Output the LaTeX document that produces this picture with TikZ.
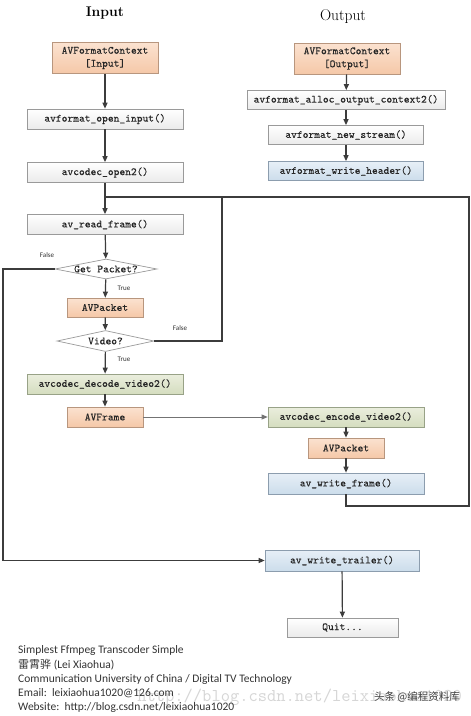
\documentclass[tikz,border=0pt]{standalone}
\usepackage{fontspec}
\newfontfamily\cjkfont{Noto Sans CJK SC}
\newfontfamily\calfont{Carlito}
\newfontfamily\boxfont{Latin Modern Mono}[FakeBold=0.2]
\usetikzlibrary{arrows.meta,shapes.geometric}
\definecolor{lineC}{HTML}{3C3C3C}
\definecolor{grayBorder}{HTML}{9A9A9A}
\definecolor{orTop}{HTML}{FBE2D0}
\definecolor{orBot}{HTML}{F5C8A8}
\definecolor{orBorder}{HTML}{B8967E}
\definecolor{grTop}{HTML}{EAEEDD}
\definecolor{grBot}{HTML}{D5DDBF}
\definecolor{grBorder}{HTML}{98A287}
\definecolor{blTop}{HTML}{E7EFF7}
\definecolor{blBot}{HTML}{CCDDEB}
\definecolor{blBorder}{HTML}{8C9DAE}
\tikzset{
  box/.style={draw=grayBorder, line width=0.7pt, inner sep=0pt, minimum height=20pt,
    font=\fontsize{11}{13}\selectfont\boxfont, text=black!85, align=center},
  whitebox/.style={box, top color=white, bottom color=black!8},
  orangebox/.style={box, top color=orTop, bottom color=orBot, draw=orBorder},
  greenbox/.style={box, top color=grTop, bottom color=grBot, draw=grBorder},
  bluebox/.style={box, top color=blTop, bottom color=blBot, draw=blBorder},
  decision/.style={diamond, draw=grayBorder, line width=0.7pt, fill=white, inner sep=0pt,
    shape aspect=5, font=\fontsize{11}{13}\selectfont\boxfont, text=black!85},
  flow/.style={draw=lineC, line width=1.2pt, -{Triangle[length=6pt,width=5pt]}},
  thinflow/.style={draw=black!55, line width=0.8pt, -{Triangle[length=6pt,width=5pt]}},
  plainline/.style={draw=lineC, line width=1.2pt},
  lbl/.style={font=\calfont\fontsize{7}{8}\selectfont, text=black!80, inner sep=0pt},
  foot/.style={font=\calfont\fontsize{11.5}{13}\selectfont, text=black!80, inner sep=0pt, anchor=west},
  title/.style={text=black, inner sep=0pt}
}
\begin{document}
\begin{tikzpicture}[x=1pt,y=-1pt]
\useasboundingbox (0,0) rectangle (471,716);
\fill[white] (0,0) rectangle (471,716);

% titles
\node[title, font=\fontsize{14}{16}\selectfont\bfseries] (tin) at (105,13) {Input};
\node[title, font=\fontsize{15.5}{17}\selectfont] (tout) at (343,17) {Output};

% input column
\node[orangebox, minimum width=106pt, minimum height=31pt] (ctxin) at (105,58) {AVFormatContext\\{[Input]}};
\node[whitebox, minimum width=156pt] (openin) at (105,119) {avformat\_open\_input()};
\node[whitebox, minimum width=156pt] (codecopen) at (105,172.5) {avcodec\_open2()};
\node[whitebox, minimum width=156pt] (readframe) at (105,224.5) {av\_read\_frame()};
\node[decision, minimum width=102pt, minimum height=20pt] (getpkt) at (106,269) {Get Packet?};
\node[orangebox, minimum width=76pt, minimum height=19pt] (pkt) at (105,307.5) {AVPacket};
\node[decision, minimum width=97pt, minimum height=21pt] (video) at (105.5,341) {Video?};
\node[greenbox, minimum width=156pt] (decode) at (105,384) {avcodec\_decode\_video2()};
\node[orangebox, minimum width=76pt] (frame) at (105,417) {AVFrame};

% output column
\node[orangebox, minimum width=106pt, minimum height=31pt] (ctxout) at (347,58.5) {AVFormatContext\\{[Output]}};
\node[whitebox, minimum width=198pt, minimum height=19pt] (alloc) at (346,100) {avformat\_alloc\_output\_context2()};
\node[whitebox, minimum width=155pt, minimum height=19pt] (newstream) at (346,135) {avformat\_new\_stream()};
\node[bluebox, minimum width=155pt, minimum height=19pt] (header) at (346,171) {avformat\_write\_header()};
\node[greenbox, minimum width=156pt] (encode) at (346,417) {avcodec\_encode\_video2()};
\node[orangebox, minimum width=76pt] (pkt2) at (346,448) {AVPacket};
\node[bluebox, minimum width=156pt, minimum height=21pt] (wframe) at (346,483.5) {av\_write\_frame()};
\node[bluebox, minimum width=154pt, minimum height=21pt] (trailer) at (342,560.5) {av\_write\_trailer()};
\node[whitebox, minimum width=111pt, minimum height=19pt] (quit) at (342.5,627.5) {Quit...};

% coordinates for bends
\coordinate (lt) at (105,197);
\coordinate (rt) at (469,197);
\coordinate (rb) at (469,506);
\coordinate (lb) at (346,506);
\coordinate (vf) at (222,341);
\coordinate (vt) at (222,197);
\coordinate (gl) at (3,269);
\coordinate (gb) at (3,560.5);

% connectors
\draw[flow] (ctxin) -- (openin);
\draw[flow] (openin) -- (codecopen);
\draw[flow] (codecopen) -- (readframe);
\draw[flow] (readframe) -- (getpkt);
\draw[flow] (getpkt) -- (pkt);
\draw[flow] (pkt) -- (video);
\draw[flow] (video) -- (decode);
\draw[flow] (decode) -- (frame);
\draw[thinflow] (frame) -- (encode);
\draw[flow] (encode) -- (pkt2);
\draw[flow] (pkt2) -- (wframe);
\draw[flow] (ctxout) -- (alloc);
\draw[flow] (alloc) -- (newstream);
\draw[flow] (newstream) -- (header);
\draw[flow] (trailer) -- (quit);
\draw[plainline] (wframe.south) -- (lb) -- (rb) -- (rt) -- (lt);
\draw[plainline] (video.east) -- (vf) -- (vt);
\draw[flow] (getpkt.west) -- (gl) -- (gb) -- (trailer.west);

% labels
\node[lbl] (lf1) at (47,255) {False};
\node[lbl] (lt1) at (124,288) {True};
\node[lbl] (lf2) at (180,328) {False};
\node[lbl] (lt2) at (124,359) {True};

% watermark
\node[text=black!16, font=\fontsize{18}{20}\selectfont\ttfamily, inner sep=0pt, anchor=east] (wm) at (462,697) {http://blog.csdn.net/leixiaohua1020};

% footer
\node[foot] (f1) at (18,650) {Simplest Ffmpeg Transcoder Simple};
\node[foot] (f2) at (18,664.5) {{\cjkfont\fontsize{11}{12}\selectfont 雷霄骅} (Lei Xiaohua)};
\node[foot] (f3) at (18,679) {Communication University of China / Digital TV Technology};
\node[foot] (f4) at (18,693) {Email:\ \ leixiaohua1020@126.com};
\node[foot] (f5) at (18,707) {Website:\ \ http://blog.csdn.net/leixiaohua1020};
\node[font=\cjkfont\fontsize{10.5}{12}\selectfont, text=black!75, inner sep=0pt, anchor=east] (tt) at (460,697) {头条 @编程资料库};
\end{tikzpicture}
\end{document}
